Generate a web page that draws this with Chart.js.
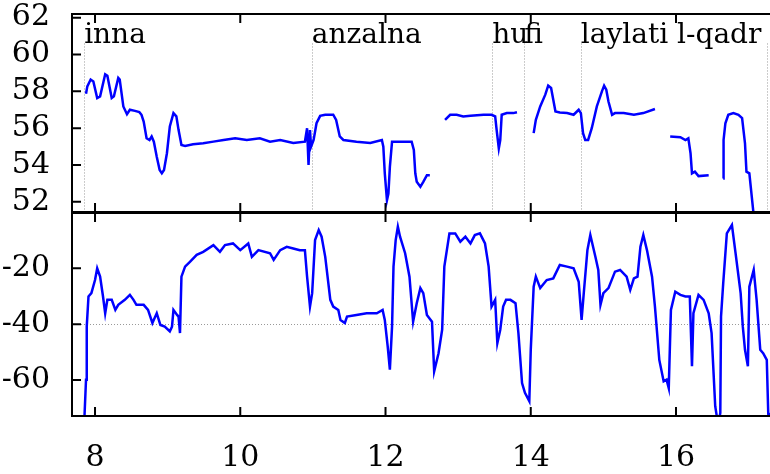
<!DOCTYPE html>
<html>
<head>
<meta charset="utf-8">
<script src="https://cdn.jsdelivr.net/npm/chart.js@4"></script>
<style>
  html, body { margin: 0; padding: 0; background: #fff; overflow: hidden; }
  #wrap { position: relative; width: 770px; height: 474px; overflow: hidden; }
  canvas { position: absolute; left: 0; }
  #pitch { top: 0; }
  #inten { top: 200px; }
</style>
</head>
<body>
<div id="wrap">
  <canvas id="pitch" width="780" height="213"></canvas>
  <canvas id="inten" width="780" height="274"></canvas>
</div>
<script>
// pitch contour (top panel), null = unvoiced gap
const pitchTime = [7.876, 7.894, 7.94, 7.977, 8.03, 8.07, 8.14, 8.17, 8.23, 8.26, 8.32, 8.34, 8.39, 8.44, 8.48, 8.55, 8.61, 8.64, 8.67, 8.71, 8.75, 8.78, 8.81, 8.85, 8.89, 8.92, 8.95, 8.99, 9.03, 9.08, 9.12, 9.15, 9.19, 9.24, 9.35, 9.49, 9.63, 9.77, 9.93, 10.09, 10.27, 10.41, 10.55, 10.73, 10.89, 10.92, 10.94, 10.96, 10.975, 11.01, 11.05, 11.10, 11.17, 11.28, 11.32, 11.37, 11.42, 11.60, 11.79, 11.95, 11.97, 11.99, 12.02, 12.04, 12.06, 12.09, 12.20, 12.36, 12.39, 12.41, 12.43, 12.48, 12.52, 12.57, 12.61,
  12.7,
  12.82, 12.89, 12.98, 13.07, 13.17, 13.35, 13.46, 13.51, 13.53, 13.56, 13.58, 13.60, 13.67, 13.76, 13.81,
  13.9,
  14.04, 14.07, 14.13, 14.20, 14.24, 14.28, 14.31, 14.34, 14.40, 14.50, 14.59, 14.66, 14.69, 14.72, 14.75, 14.79, 14.84, 14.91, 14.98, 15.01, 15.04, 15.07, 15.12, 15.16, 15.28, 15.42, 15.55, 15.71,
  15.8,
  15.92, 16.06, 16.13, 16.17, 16.20, 16.22, 16.26, 16.31, 16.45,
  16.55,
  16.65, 16.655, 16.68, 16.72, 16.79, 16.86, 16.91, 16.95, 16.97, 17.01, 17.09];
const pitchValue = [57.87, 58.27, 58.64, 58.54, 57.64, 57.73, 58.93, 58.85, 57.64, 57.73, 58.73, 58.64, 57.18, 56.76, 57.0, 56.94, 56.87, 56.73, 56.36, 55.45, 55.36, 55.55, 55.27, 54.45, 53.73, 53.55, 53.73, 54.64, 56.09, 56.82, 56.64, 55.91, 55.09, 55.04, 55.13, 55.18, 55.27, 55.36, 55.45, 55.36, 55.45, 55.27, 55.36, 55.2, 55.27, 56.0, 54.0, 55.9, 55.0, 55.36, 56.27, 56.67, 56.73, 56.73, 56.45, 55.55, 55.36, 55.27, 55.2, 55.36, 55.0, 53.55, 52.09, 52.45, 53.9, 55.27, 55.27, 55.27, 54.82, 53.55, 53.09, 52.82, 53.09, 53.45, 53.45,
  null,
  56.45, 56.73, 56.73, 56.64, 56.67, 56.73, 56.73, 56.64, 55.91, 54.91, 55.36, 56.73, 56.82, 56.82, 56.87,
  null,
  55.73, 56.45, 57.18, 57.82, 58.31, 58.18, 57.55, 56.91, 56.85, 56.82, 56.73, 57.0, 56.82, 55.73, 55.36, 55.36, 56.0, 57.18, 58.0, 58.31, 58.09, 57.45, 56.73, 56.82, 56.82, 56.73, 56.82, 57.04,
  null,
  55.55, 55.51, 55.36, 55.45, 54.64, 53.55, 53.64, 53.40, 53.45,
  null,
  53.27, 55.36, 56.27, 56.73, 56.82, 56.73, 56.55, 55.18, 53.64, 53.55, 50.5];

// intensity contour (bottom panel)
const intenTime = [7.85, 7.876, 7.886, 7.91, 7.95, 8.0, 8.03, 8.07, 8.11, 8.14, 8.17, 8.23, 8.28, 8.32, 8.41, 8.48, 8.53, 8.57, 8.67, 8.73, 8.79, 8.85, 8.90, 8.96, 9.03, 9.06, 9.08, 9.13, 9.15, 9.17, 9.19, 9.24, 9.31, 9.40, 9.49, 9.63, 9.72, 9.79, 9.90, 10.0, 10.11, 10.16, 10.25, 10.41, 10.46, 10.55, 10.64, 10.73, 10.82, 10.89, 10.92, 10.96, 10.99, 11.03, 11.08, 11.12, 11.17, 11.24, 11.28, 11.35, 11.38, 11.44, 11.47, 11.60, 11.74, 11.88, 11.96, 11.99, 12.03, 12.06, 12.09, 12.11, 12.14, 12.17, 12.20, 12.27, 12.33, 12.38, 12.43, 12.48, 12.52, 12.57, 12.64, 12.67, 12.73, 12.78, 12.81, 12.88, 12.96, 13.03, 13.10, 13.17, 13.23, 13.30, 13.37, 13.42, 13.46, 13.51, 13.54, 13.58, 13.62, 13.66, 13.72, 13.79, 13.83, 13.88, 13.92, 13.98, 14.0, 14.04, 14.07, 14.13, 14.22, 14.31, 14.40, 14.50, 14.59, 14.66, 14.70, 14.73, 14.78, 14.82, 14.89, 14.93, 14.96, 15.00, 15.07, 15.16, 15.23, 15.32, 15.37, 15.42, 15.47, 15.51, 15.55, 15.60, 15.67, 15.71, 15.77, 15.83, 15.87, 15.90, 15.93, 15.99, 16.06, 16.13, 16.19, 16.22, 16.24, 16.31, 16.38, 16.45, 16.49, 16.54, 16.58, 16.61, 16.62, 16.65, 16.70, 16.77, 16.82, 16.89, 16.92, 16.95, 16.99, 17.01, 17.07, 17.11, 17.16, 17.20, 17.25, 17.27, 17.28];
const intenDb = [-76, -59.9, -40.9, -30.1, -28.9, -24.2, -20.0, -23.0, -30.1, -36.1, -31.3, -31.3, -34.9, -33.1, -31.3, -29.5, -31.3, -33.1, -33.1, -34.9, -39.6, -36.1, -40.3, -40.9, -42.6, -40.9, -34.9, -36.7, -37.3, -43.2, -23.0, -19.4, -17.6, -15.2, -14.1, -11.7, -14.1, -11.7, -11.1, -13.5, -11.1, -15.9, -13.5, -14.6, -17.0, -13.5, -12.3, -12.9, -13.5, -13.5, -23.0, -33.7, -28.9, -9.9, -6.3, -8.7, -15.9, -31.3, -33.7, -34.9, -38.5, -39.6, -37.3, -36.7, -36.1, -36.1, -34.9, -38.5, -48.0, -56.3, -40.9, -19.4, -9.9, -5.1, -8.7, -14.6, -23.0, -39.1, -32.5, -27.1, -28.9, -36.7, -39.1, -56.9, -50.4, -42.0, -19.4, -7.5, -7.5, -10.5, -8.7, -11.1, -8.1, -7.5, -11.1, -19.4, -33.7, -31.3, -46.8, -42.0, -33.7, -31.3, -31.3, -32.5, -43.2, -61.1, -64.6, -67.6, -49.2, -26.6, -23.0, -27.1, -24.2, -23.6, -18.8, -19.4, -20.0, -24.8, -38.5, -28.9, -13.5, -8.1, -15.9, -20.6, -33.1, -28.9, -27.1, -21.2, -20.6, -23.0, -27.7, -23.6, -23.0, -12.3, -8.1, -13.5, -23.0, -33.7, -52.8, -60.5, -59.9, -62.9, -34.9, -28.4, -29.5, -30.1, -30.1, -55.1, -36.1, -29.5, -31.3, -36.1, -43.2, -69.4, -76, -71.8, -37.3, -25.4, -7.5, -4.5, -14.6, -28.9, -40.9, -49.2, -55.1, -26.6, -20.6, -31.3, -49.2, -50.4, -52.8, -71.8, -76];

// word tier
const words = ['inna', 'anzalna', 'hu', 'fi', 'laylati l-qadr'];
const wordBounds = [7.85, 10.985, 13.47, 13.91, 14.69, 17.25];

const xTicks = [8, 10, 12, 14, 16];
const pitchTicks = [52, 54, 56, 58, 60, 62];
const intenTicks = [-60, -40, -20];
const intenRefLines = [-40];

const FONT = { family: 'DejaVu Serif', size: 30 };
const WORD_FONT = '28px "DejaVu Serif"';
const X_MIN = 7.683, X_MAX = 17.432;

function toPoints(xs, ys) {
  return xs.map((x, i) => ({ x: x, y: ys[i] }));
}

function frame(extraUnder, extraOver) {
  return {
    id: 'frame',
    beforeDatasetsDraw(chart) {
      if (extraUnder) extraUnder(chart);
    },
    afterDatasetsDraw(chart) {
      if (extraOver) extraOver(chart);
    },
    afterDraw(chart) {
      const { ctx, chartArea: a, scales } = chart;
      ctx.save();
      ctx.strokeStyle = '#000';
      ctx.lineWidth = 2;
      ctx.strokeRect(a.left, a.top, a.right - a.left, a.bottom - a.top);
      ctx.beginPath();
      xTicks.forEach(v => {
        const x = scales.x.getPixelForValue(v);
        ctx.moveTo(x, a.top); ctx.lineTo(x, a.top + 9);
        ctx.moveTo(x, a.bottom); ctx.lineTo(x, a.bottom - 9);
      });
      scales.y.ticks.forEach(t => {
        const y = scales.y.getPixelForValue(t.value);
        ctx.moveTo(a.left, y); ctx.lineTo(a.left + 9, y);
      });
      ctx.stroke();
      ctx.restore();
    }
  };
}

function dotted(ctx) {
  ctx.strokeStyle = '#999';
  ctx.lineWidth = 1;
  ctx.setLineDash([1, 2]);
}

// top panel: word boundaries
function drawBounds(chart) {
  const { ctx, chartArea: a, scales } = chart;
  ctx.save();
  dotted(ctx);
  const yTop = scales.y.getPixelForValue(60.6);
  wordBounds.forEach(v => {
    const x = Math.round(scales.x.getPixelForValue(v)) + 0.5;
    ctx.beginPath();
    ctx.moveTo(x, yTop);
    ctx.lineTo(x, a.bottom);
    ctx.stroke();
  });
  ctx.restore();
}

function drawWords(chart) {
  const { ctx, chartArea: a, scales } = chart;
  ctx.save();
  ctx.fillStyle = '#000';
  ctx.font = WORD_FONT;
  ctx.textAlign = 'left';
  ctx.textBaseline = 'alphabetic';
  words.forEach((w, i) => {
    ctx.fillText(w, scales.x.getPixelForValue(wordBounds[i]), a.top + 29);
  });
  ctx.restore();
}

function drawRefLines(chart) {
  const { ctx, chartArea: a, scales } = chart;
  ctx.save();
  dotted(ctx);
  intenRefLines.forEach(v => {
    const y = Math.round(scales.y.getPixelForValue(v)) + 0.5;
    ctx.beginPath();
    ctx.moveTo(a.left, y);
    ctx.lineTo(a.right, y);
    ctx.stroke();
  });
  ctx.restore();
}

function yScale(min, max, ticks) {
  return {
    min: min,
    max: max,
    afterBuildTicks: s => { s.ticks = ticks.map(v => ({ value: v })); },
    afterFit: s => { s.width = 72; s.paddingTop = 0; s.paddingBottom = 0; },
    grid: { display: false },
    border: { display: false },
    ticks: { font: FONT, color: '#000', padding: 14, autoSkip: false }
  };
}

const lineStyle = {
  borderColor: '#0000ff',
  borderWidth: 2.5,
  pointRadius: 0,
  tension: 0,
  spanGaps: false
};

new Chart(document.getElementById('pitch'), {
  type: 'line',
  data: { datasets: [Object.assign({ data: toPoints(pitchTime, pitchValue) }, lineStyle)] },
  options: {
    responsive: false,
    animation: false,
    layout: { padding: { top: 14, bottom: 1, left: 0, right: 0 } },
    plugins: { legend: { display: false }, tooltip: { enabled: false } },
    scales: {
      x: { type: 'linear', min: X_MIN, max: X_MAX, display: false },
      y: yScale(51.45, 62.2, pitchTicks)
    }
  },
  plugins: [frame(drawBounds, drawWords)]
});

new Chart(document.getElementById('inten'), {
  type: 'line',
  data: { datasets: [Object.assign({ data: toPoints(intenTime, intenDb) }, lineStyle)] },
  options: {
    responsive: false,
    animation: false,
    layout: { padding: { top: 13, bottom: 0, left: 0, right: 0 } },
    plugins: { legend: { display: false }, tooltip: { enabled: false } },
    scales: {
      x: {
        type: 'linear', min: X_MIN, max: X_MAX,
        afterBuildTicks: s => { s.ticks = xTicks.map(v => ({ value: v })); },
        afterFit: s => { s.height = 58; s.paddingLeft = 0; s.paddingRight = 0; },
        grid: { display: false },
        border: { display: false },
        ticks: { font: FONT, color: '#000', padding: 16, autoSkip: false, maxRotation: 0 }
      },
      y: yScale(-72.9, -0.2, intenTicks)
    }
  },
  plugins: [frame(drawRefLines, null)]
});
</script>
</body>
</html>
